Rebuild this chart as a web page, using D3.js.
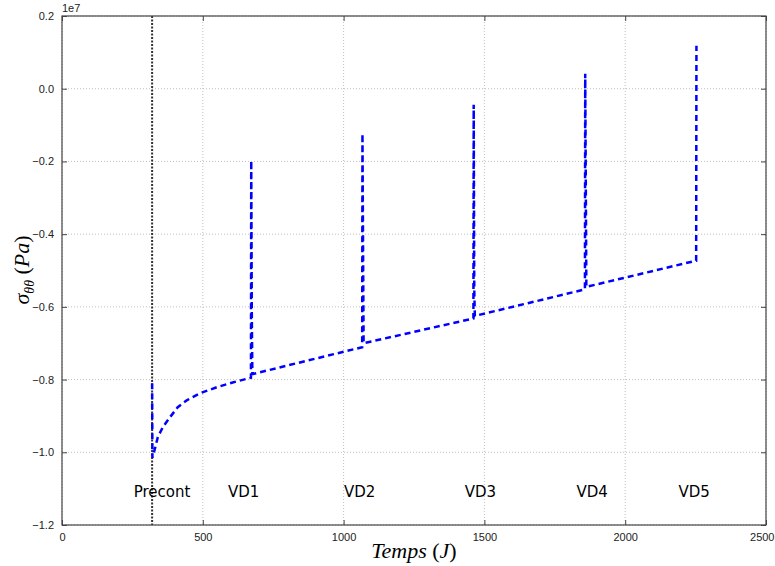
<!DOCTYPE html>
<html>
<head>
<meta charset="utf-8">
<script src="https://cdn.jsdelivr.net/npm/d3@7"></script>
<style>
  body { margin: 0; background: #fff; }
  svg { display: block; }
</style>
</head>
<body>
<svg id="chart" width="775" height="566"></svg>
<script>
// ---- Data (stress in Pa, time in days) ----
const times = [320, 321, 330, 340, 358, 383, 411, 443, 489, 550, 606, 671,
  672, 674, 676,
  1066, 1067, 1069, 1071,
  1461, 1462, 1464, 1466,
  1857, 1858, 1860, 1862,
  2252, 2253];
const stress = [-0.81e7, -1.015e7, -0.99e7, -0.959e7, -0.931e7, -0.904e7, -0.876e7, -0.857e7, -0.838e7, -0.821e7, -0.808e7, -0.795e7,
  -0.198e7, -0.62e7, -0.785e7,
  -0.711e7, -0.124e7, -0.42e7, -0.70e7,
  -0.632e7, -0.044e7, -0.55e7, -0.625e7,
  -0.552e7, 0.041e7, -0.25e7, -0.545e7,
  -0.473e7, 0.118e7];
const precontTime = 320;
const eventLabels = ["Precont", "VD1", "VD2", "VD3", "VD4", "VD5"];
const eventLabelTimes = [355, 645, 1057, 1486, 1883, 2245];
const eventLabelY = -1.11e7;
const xTicks = [0, 500, 1000, 1500, 2000, 2500];
const yTicks = [-1.2e7, -1.0e7, -0.8e7, -0.6e7, -0.4e7, -0.2e7, 0, 0.2e7];

// ---- Layout ----
const svg = d3.select("#chart");
const L = 62, R = 766, T = 16, B = 525;
const x = d3.scaleLinear().domain([0, 2500]).range([L, R]);
const y = d3.scaleLinear().domain([-1.2e7, 0.2e7]).range([B, T]);

const fmtY = v => (v / 1e7).toFixed(1).replace("-", "\u2212");

// grid
const grid = svg.append("g");
grid.selectAll("line.gx").data(xTicks).join("line")
  .attr("x1", d => x(d)).attr("x2", d => x(d)).attr("y1", T).attr("y2", B)
  .attr("stroke", "#b0b0b0").attr("stroke-width", 0.8).attr("stroke-dasharray", "1,2");
grid.selectAll("line.gy").data(yTicks).join("line")
  .attr("y1", d => y(d)).attr("y2", d => y(d)).attr("x1", L).attr("x2", R)
  .attr("stroke", "#b0b0b0").attr("stroke-width", 0.8).attr("stroke-dasharray", "1,2");

// precont vertical dotted line
svg.append("line")
  .attr("x1", x(precontTime)).attr("x2", x(precontTime)).attr("y1", T).attr("y2", B)
  .attr("stroke", "#333").attr("stroke-width", 2).attr("stroke-dasharray", "2,1.5");

// data line
const pts = times.map((t, i) => [t, stress[i]]);
svg.append("path")
  .datum(pts)
  .attr("d", d3.line().x(d => x(d[0])).y(d => y(d[1])))
  .attr("fill", "none").attr("stroke", "#0000ff").attr("stroke-width", 2.5)
  .attr("stroke-dasharray", "6,4");

// event labels
svg.append("g").selectAll("text").data(eventLabels).join("text")
  .attr("x", (d, i) => x(eventLabelTimes[i]))
  .attr("y", y(eventLabelY))
  .attr("text-anchor", "middle").attr("dominant-baseline", "middle")
  .attr("font-family", "DejaVu Sans, sans-serif").attr("font-size", 15)
  .text(d => d);

// axes (ticks inward)
const ax = svg.append("g").attr("transform", `translate(0,${B})`)
  .call(d3.axisBottom(x).tickValues(xTicks).tickSize(-5).tickPadding(8).tickFormat(d3.format("d")));
const axTop = svg.append("g").attr("transform", `translate(0,${T})`)
  .call(d3.axisTop(x).tickValues(xTicks).tickSize(-5).tickFormat(""));
const ay = svg.append("g").attr("transform", `translate(${L},0)`)
  .call(d3.axisLeft(y).tickValues(yTicks).tickSize(-5).tickPadding(8).tickFormat(fmtY));
const ayR = svg.append("g").attr("transform", `translate(${R},0)`)
  .call(d3.axisRight(y).tickValues(yTicks).tickSize(-5).tickFormat(""));
[ax, axTop, ay, ayR].forEach(g => {
  g.select(".domain").remove();
  g.selectAll("line").attr("stroke", "#444");
  g.selectAll("text").attr("font-family", "Liberation Sans, Arial, sans-serif")
    .attr("font-size", 11).attr("fill", "#222");
});
// keep the last x tick label inside the picture
ax.selectAll(".tick text").filter(d => d === 2500).attr("text-anchor", "end").attr("dx", 8);

// frame
svg.append("rect").attr("x", L).attr("y", T).attr("width", R - L).attr("height", B - T)
  .attr("fill", "none").attr("stroke", "#444").attr("stroke-width", 1.2);

// offset text
svg.append("text").attr("x", L).attr("y", 12)
  .attr("font-family", "Liberation Sans, Arial, sans-serif").attr("font-size", 11).attr("fill", "#222")
  .text("1e7");

// x label
const xl = svg.append("text").attr("x", 414).attr("y", 558)
  .attr("text-anchor", "middle")
  .attr("font-family", "Liberation Serif, DejaVu Serif, serif").attr("font-size", 22);
xl.append("tspan").attr("font-style", "italic").text("Temps ");
xl.append("tspan").text("(");
xl.append("tspan").attr("font-style", "italic").text("J");
xl.append("tspan").text(")");

// y label
const yl = svg.append("text").attr("transform", "translate(29,270) rotate(-90)")
  .attr("text-anchor", "middle")
  .attr("font-family", "Liberation Serif, DejaVu Serif, serif").attr("font-size", 22);
yl.append("tspan").attr("font-style", "italic").text("σ");
yl.append("tspan").attr("font-style", "italic").attr("font-size", 14).attr("dy", 5).text("θθ");
yl.append("tspan").attr("dy", -5).text(" (");
yl.append("tspan").attr("font-style", "italic").text("Pa");
yl.append("tspan").text(")");
</script>
</body>
</html>
